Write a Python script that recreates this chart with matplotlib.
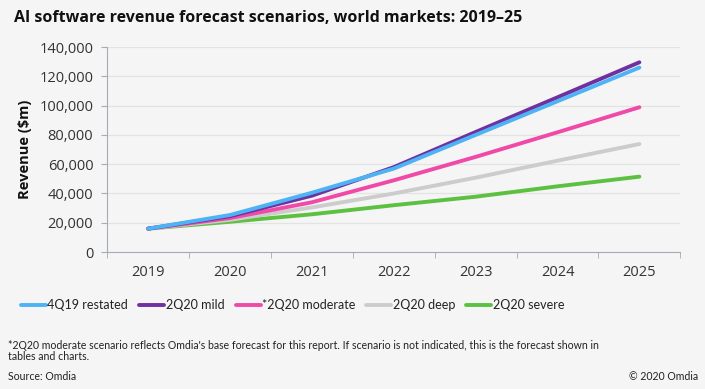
import matplotlib.pyplot as plt

years = ["2019", "2020", "2021", "2022", "2023", "2024", "2025"]
restated_4q19 = [16000, 25300, 40500, 57000, 80000, 103000, 126000]
mild_2q20 = [16000, 24500, 38500, 58000, 82000, 105700, 129600]
moderate_2q20 = [16000, 23200, 34000, 49000, 65000, 81800, 98900]
deep_2q20 = [16000, 22000, 30500, 40000, 50800, 62400, 73800]
severe_2q20 = [16000, 20700, 25800, 32000, 37800, 44900, 51500]

series_names = ["4Q19 restated", "2Q20 mild", "*2Q20 moderate", "2Q20 deep", "2Q20 severe"]
series_vals = [restated_4q19, mild_2q20, moderate_2q20, deep_2q20, severe_2q20]
colors = ["#4db3f5", "#7030a0", "#f04aa8", "#cccccc", "#5cc140"]

bg = "#f5f5f5"
plt.rcParams['font.family'] = ['Open Sans', 'DejaVu Sans']

fig = plt.figure(figsize=(7.05, 3.89), dpi=100, facecolor=bg)
ax = fig.add_axes([0.152, 0.352, 0.813, 0.527], facecolor=bg)

x = [i + 0.5 for i in range(len(years))]
# draw lowest first so the upper scenarios sit on top
for name, vals, c in reversed(list(zip(series_names, series_vals, colors))):
    ax.plot(x, vals, color=c, lw=2.8, label=name, solid_capstyle='round', zorder=3)

ax.set_xlim(0, len(years))
ax.set_ylim(0, 140000)
ax.set_yticks(range(0, 140001, 20000))
ax.set_yticklabels([f"{v:,}" for v in range(0, 140001, 20000)], fontsize=10.5, color="#333333")
ax.set_xticks(x)
ax.set_xticklabels(years, fontsize=10.5, color="#333333")
ax.set_xticks(range(len(years) + 1), minor=True)
ax.tick_params(axis='x', which='major', length=0, pad=9)
ax.tick_params(axis='x', which='minor', length=4, color="#a6acb5")
ax.tick_params(axis='y', length=4, color="#a6acb5", pad=6)
ax.grid(axis='y', color="#e3e3e3", lw=0.9, zorder=0)
for s in ["top", "right"]:
    ax.spines[s].set_visible(False)
for s in ["left", "bottom"]:
    ax.spines[s].set_color("#a6acb5")
ax.set_ylabel("Revenue ($m)", fontsize=10.5, fontweight='bold', color="#111111", labelpad=5)

fig.text(0.02, 0.955, "AI software revenue forecast scenarios, world markets: 2019\u201325",
         fontsize=11.5, fontweight='bold', color="#111111", va='center')

handles, labels = ax.get_legend_handles_labels()
leg = fig.legend(handles[::-1], labels[::-1], ncol=5, loc='center left', bbox_to_anchor=(0.03, 0.215),
                 frameon=False, handlelength=2.0, handletextpad=0.1, borderpad=0, borderaxespad=0,
                 columnspacing=0.9, prop={'family': ['Lato', 'DejaVu Sans'], 'size': 9.0})
for t in leg.get_texts():
    t.set_color("#222222")

foot = dict(fontsize=7.6, color="#222222", family=['Lato', 'DejaVu Sans'])
fig.text(0.012, 0.113, "*2Q20 moderate scenario reflects Omdia's base forecast for this report. If scenario is not indicated, this is the forecast shown in",
         va='center', **foot)
fig.text(0.012, 0.083, "tables and charts.", va='center', **foot)
fig.text(0.012, 0.033, "Source: Omdia", va='center', **foot)
fig.text(0.99, 0.033, "\u00a9 2020 Omdia", va='center', ha='right', **foot)

fig.savefig("out.png", dpi=100, facecolor=bg)
